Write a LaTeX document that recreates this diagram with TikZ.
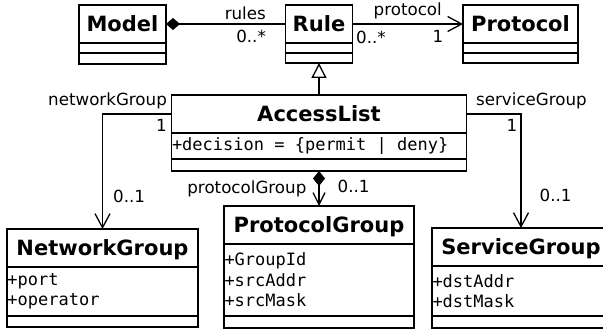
\documentclass[tikz,border=0pt]{standalone}
\usepackage{fontspec}
\setmainfont{DejaVu Sans}
\setmonofont{DejaVu Sans Mono}
\usetikzlibrary{positioning,arrows.meta}

% one monospaced cell of blank
\newcommand{\msp}{\phantom{x}}

\tikzset{
  cname/.style={draw, line width=1.6pt, outer sep=0pt, inner sep=0pt, minimum height=38pt,
    text height=15.3pt, text depth=0pt, font=\fontsize{21}{25}\selectfont\bfseries},
  cattr/.style={draw, line width=1.6pt, outer sep=0pt, inner xsep=0.5pt, inner ysep=0pt,
    align=left, font=\fontsize{17}{20.5}\selectfont\ttfamily},
  cempty/.style={draw, line width=1.6pt, outer sep=0pt, inner sep=0pt},
  assoc/.style={line width=1.3pt, -{Straight Barb[length=14pt,width=15pt,line width=1.3pt]}},
  lbl/.style={font=\fontsize{16.7}{20}\selectfont, inner sep=0pt},
}

\begin{document}
\begin{tikzpicture}[x=1pt,y=-1pt]
\path[use as bounding box, fill=white] (0,0) rectangle (603,329);

% top row
\node[cname, minimum width=87pt] (model) at (122.5,24) {Model};
\node[cempty, minimum width=87pt, minimum height=10pt, below=0pt of model] (model-a) {};
\node[cempty, minimum width=87pt, minimum height=11pt, below=0pt of model-a] (model-o) {};

\node[cname, minimum width=67pt] (rule) at (319,24) {Rule};
\node[cempty, minimum width=67pt, minimum height=10pt, below=0pt of rule] (rule-a) {};
\node[cempty, minimum width=67pt, minimum height=10pt, below=0pt of rule-a] (rule-o) {};

\node[cname, minimum width=115pt] (protocol) at (520.5,24) {Protocol};
\node[cempty, minimum width=115pt, minimum height=10pt, below=0pt of protocol] (protocol-a) {};
\node[cempty, minimum width=115pt, minimum height=10pt, below=0pt of protocol-a] (protocol-o) {};

% access list
\node[cname, minimum width=295pt] (access) at (319,114) {AccessList};
\node[cattr, text width=294pt, minimum height=26pt, below=0pt of access] (access-a)
  {+decision\msp=\msp\{permit\msp|\msp deny\}};
\node[cempty, minimum width=295pt, minimum height=12pt, below=0pt of access-a] (access-o) {};

% bottom row
\node[cname, minimum width=191pt] (network) at (102.5,248) {NetworkGroup};
\node[cattr, text width=190pt, minimum height=49pt, below=0pt of network] (network-a) {+port\\+operator};
\node[cempty, minimum width=191pt, minimum height=11pt, below=0pt of network-a] (network-o) {};

\node[cname, minimum width=190pt] (protgroup) at (319,225) {ProtocolGroup};
\node[cattr, text width=189pt, minimum height=72pt, below=0pt of protgroup] (protgroup-a) {+GroupId\\+srcAddr\\+srcMask};
\node[cempty, minimum width=190pt, minimum height=12pt, below=0pt of protgroup-a] (protgroup-o) {};

\node[cname, minimum width=178pt] (service) at (521,247) {ServiceGroup};
\node[cattr, text width=177pt, minimum height=50pt, below=0pt of service] (service-a) {+dstAddr\\+dstMask};
\node[cempty, minimum width=178pt, minimum height=12pt, below=0pt of service-a] (service-o) {};

% connectors
\draw[assoc, {Diamond[length=14pt,width=12pt]}-] (model.east) -- (rule.west)
  node[lbl, pos=1, anchor=south east, xshift=-19pt, yshift=4pt] {rules}
  node[lbl, pos=1, anchor=north east, xshift=-19pt, yshift=-5pt] {0..*};
\draw[assoc] (rule.east) -- (protocol.west)
  node[lbl, midway, anchor=south, yshift=4pt] {protocol}
  node[lbl, pos=0, anchor=north west, xshift=3pt, yshift=-6pt] {0..*}
  node[lbl, pos=1, anchor=north east, xshift=-19pt, yshift=-6pt] {1};
\draw[line width=1.3pt, -{Triangle[open,length=15pt,width=15pt,line width=1.3pt]}] (access.north) -- (rule-o.south);
\draw[assoc] (access.west) -| (network.north)
  node[lbl, pos=0, anchor=south east, xshift=-4pt, yshift=4pt] {networkGroup}
  node[lbl, pos=0, anchor=north east, xshift=-4pt, yshift=-5pt] {1}
  node[lbl, pos=1, anchor=south west, xshift=10pt, yshift=26pt] {0..1};
\draw[assoc] (access.east) -| (service.north)
  node[lbl, pos=0, anchor=south west, xshift=9pt, yshift=4pt] {serviceGroup}
  node[lbl, pos=0.5, anchor=north east, xshift=-3pt, yshift=-5pt] {1}
  node[lbl, pos=1, anchor=south west, xshift=18pt, yshift=26pt] {0..1};
\draw[line width=1.3pt, {Diamond[length=15pt,width=12pt]}-{Straight Barb[length=12pt,width=12pt,line width=1.3pt]}]
  (access-o.south) -- (protgroup.north)
  node[lbl, midway, anchor=east, xshift=-12pt] {protocolGroup}
  node[lbl, midway, anchor=west, xshift=18pt, yshift=2pt] {0..1};
\end{tikzpicture}
\end{document}
